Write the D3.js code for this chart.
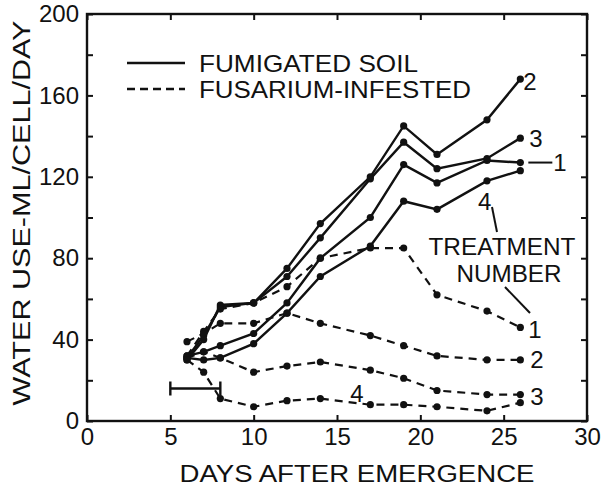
<!DOCTYPE html>
<html>
<head>
<meta charset="utf-8">
<script src="https://cdn.jsdelivr.net/npm/d3@7"></script>
<style>
  body { margin: 0; background: #fff; }
  svg text { font-family: "Liberation Sans", "DejaVu Sans", sans-serif; fill: #111; }
</style>
</head>
<body>
<svg width="602" height="488"></svg>
<script>
// days on which water use was measured
const days = [6, 7, 8, 10, 12, 14, 17, 19, 21, 24, 26];

// fumigated soil, treatments 1-4 (solid)
const fumigated1 = [32, 34, 37, 43, 58, 80, 100, 126, 117, 128, 127];
const fumigated2 = [30, 40, 57, 58, 75, 97, 120, 145, 131, 148, 168];
const fumigated3 = [31, 42, 56, 58, 71, 90, 119, 137, 124, 129, 139];
const fumigated4 = [31, 30, 31, 38, 53, 71, 86, 108, 104, 118, 123];

// fusarium-infested soil, treatments 1-4 (dashed)
const infested1 = [32, 44, 55, 58, 66, 80, 85, 85, 62, 54, 46];
const infested2 = [39, 43, 48, 48, 53, 48, 42, 37, 32, 30, 30];
const infested3 = [31, 34, 31, 24, 27, 29, 25, 21, 15, 13, 13];
const infested4 = [30, 24, 11, 7, 10, 11, 8, 8, 7, 5, 9];

const xTicks = [0, 5, 10, 15, 20, 25, 30];
const yTicks = [0, 40, 80, 120, 160, 200];

// LSD bar: from day 5 to day 8
const lsdBar = { from: 5, to: 8, value: 16 };

function draw() {
  const svg = d3.select('svg');
  const x = d3.scaleLinear().domain([0, 30]).range([87, 587]);
  const y = d3.scaleLinear().domain([0, 200]).range([421, 14]);

  const line = d3.line()
    .x((d, i) => x(days[i]))
    .y(d => y(d));

  // frame
  svg.append('rect')
    .attr('x', x(0)).attr('y', y(200))
    .attr('width', x(30) - x(0)).attr('height', y(0) - y(200))
    .attr('fill', 'none').attr('stroke', '#111').attr('stroke-width', 2.4);

  // axes, ticks point inward
  const fontSize = 24;
  svg.append('g')
    .attr('transform', `translate(0,${y(0)})`)
    .call(d3.axisBottom(x).tickValues(xTicks).tickSize(-6).tickPadding(5).tickFormat(d3.format('d')))
    .call(g => g.select('.domain').remove())
    .call(g => g.selectAll('line').attr('stroke', '#111').attr('stroke-width', 2))
    .call(g => g.selectAll('text').attr('font-size', fontSize).attr('dy', '0.8em'));

  svg.append('g')
    .attr('transform', `translate(0,${y(200)})`)
    .call(d3.axisTop(x).tickValues(xTicks).tickSize(-6).tickFormat(''))
    .call(g => g.select('.domain').remove())
    .call(g => g.selectAll('line').attr('stroke', '#111').attr('stroke-width', 2));

  svg.append('g')
    .attr('transform', `translate(${x(0)},0)`)
    .call(d3.axisLeft(y).ticks(10).tickSize(-6).tickPadding(8)
      .tickFormat(d => yTicks.includes(d) ? d : ''))
    .call(g => g.select('.domain').remove())
    .call(g => g.selectAll('line').attr('stroke', '#111').attr('stroke-width', 2))
    .call(g => g.selectAll('text').attr('font-size', fontSize));

  svg.append('g')
    .attr('transform', `translate(${x(30)},0)`)
    .call(d3.axisRight(y).ticks(10).tickSize(-6).tickFormat(''))
    .call(g => g.select('.domain').remove())
    .call(g => g.selectAll('line').attr('stroke', '#111').attr('stroke-width', 2));

  // axis titles
  svg.append('text')
    .attr('x', 357).attr('y', 482)
    .attr('text-anchor', 'middle').attr('font-size', 23)
    .attr('textLength', 355).attr('lengthAdjust', 'spacingAndGlyphs')
    .text('DAYS AFTER EMERGENCE');

  svg.append('text')
    .attr('transform', 'translate(30,213) rotate(-90)')
    .attr('text-anchor', 'middle').attr('font-size', 23)
    .attr('textLength', 385).attr('lengthAdjust', 'spacingAndGlyphs')
    .text('WATER USE-ML/CELL/DAY');

  // series
  const solid = [fumigated1, fumigated2, fumigated3, fumigated4];
  const dashed = [infested1, infested2, infested3, infested4];

  dashed.forEach(vals => {
    svg.append('path')
      .attr('d', line(vals))
      .attr('fill', 'none').attr('stroke', '#111')
      .attr('stroke-width', 2.2).attr('stroke-dasharray', '8,6');
  });
  solid.forEach(vals => {
    svg.append('path')
      .attr('d', line(vals))
      .attr('fill', 'none').attr('stroke', '#111')
      .attr('stroke-width', 2.4);
  });
  solid.concat(dashed).forEach(vals => {
    svg.append('g').selectAll('circle')
      .data(vals)
      .join('circle')
      .attr('cx', (d, i) => x(days[i]))
      .attr('cy', d => y(d))
      .attr('r', 3.6)
      .attr('fill', '#111');
  });

  // LSD bar
  const by = y(lsdBar.value);
  svg.append('path')
    .attr('d', `M${x(lsdBar.from)},${by}H${x(lsdBar.to)}M${x(lsdBar.from)},${by - 7}V${by + 7}M${x(lsdBar.to)},${by - 7}V${by + 7}`)
    .attr('fill', 'none').attr('stroke', '#111').attr('stroke-width', 2.4);

  // legend
  svg.append('line')
    .attr('x1', 127).attr('x2', 185).attr('y1', 63).attr('y2', 63)
    .attr('stroke', '#111').attr('stroke-width', 2.4);
  svg.append('line')
    .attr('x1', 127).attr('x2', 185).attr('y1', 89).attr('y2', 89)
    .attr('stroke', '#111').attr('stroke-width', 2.4).attr('stroke-dasharray', '8,5');
  svg.append('text')
    .attr('x', 199).attr('y', 72).attr('font-size', 24)
    .attr('textLength', 219).attr('lengthAdjust', 'spacingAndGlyphs')
    .text('FUMIGATED SOIL');
  svg.append('text')
    .attr('x', 199).attr('y', 98).attr('font-size', 24)
    .attr('textLength', 272).attr('lengthAdjust', 'spacingAndGlyphs')
    .text('FUSARIUM-INFESTED');

  // treatment number labels, placed from the series end points
  const last = days.length - 1;
  const xEnd = x(days[last]);
  const lab = (tx, ty, t) => svg.append('text')
    .attr('x', tx).attr('y', ty).attr('font-size', 24)
    .attr('dy', '0.36em').text(t);

  lab(xEnd + 3, y(fumigated2[last]) + 2, '2');
  lab(xEnd + 9, y(fumigated3[last]), '3');
  svg.append('line')
    .attr('x1', xEnd + 8).attr('x2', xEnd + 32)
    .attr('y1', y(fumigated1[last])).attr('y2', y(fumigated1[last]))
    .attr('stroke', '#111').attr('stroke-width', 2);
  lab(xEnd + 33, y(fumigated1[last]), '1');
  lab(x(days[last - 1]) - 9, y(fumigated4[last - 1]) + 20, '4');

  svg.append('line')
    .attr('x1', 492).attr('y1', 207).attr('x2', 497).attr('y2', 232)
    .attr('stroke', '#111').attr('stroke-width', 2);
  svg.append('text')
    .attr('x', 502).attr('y', 255).attr('text-anchor', 'middle').attr('font-size', 23)
    .attr('textLength', 147).attr('lengthAdjust', 'spacingAndGlyphs')
    .text('TREATMENT');
  svg.append('text')
    .attr('x', 509).attr('y', 282).attr('text-anchor', 'middle').attr('font-size', 23)
    .attr('textLength', 105).attr('lengthAdjust', 'spacingAndGlyphs')
    .text('NUMBER');
  svg.append('line')
    .attr('x1', 505).attr('y1', 287).attr('x2', 530).attr('y2', 313)
    .attr('stroke', '#111').attr('stroke-width', 2);

  lab(xEnd + 8, y(infested1[last]) + 2, '1');
  lab(xEnd + 10, y(infested2[last]) - 1, '2');
  lab(xEnd + 10, y(infested3[last]) + 2, '3');
  lab(x(15.8), y(infested4[5]) - 5, '4');
}

draw();
</script>
</body>
</html>
